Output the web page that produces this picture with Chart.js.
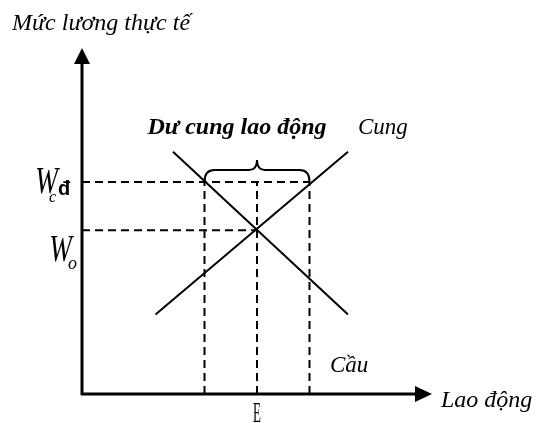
<!DOCTYPE html>
<html>
<head>
<meta charset="utf-8">
<script src="https://cdn.jsdelivr.net/npm/chart.js@4.4.0/dist/chart.umd.min.js"></script>
<style>
  html, body { margin: 0; padding: 0; background: #fff; }
  #wrap { width: 540px; height: 423px; }
</style>
</head>
<body>
<div id="wrap"><canvas id="laborChart" width="540" height="423"></canvas></div>
<script>
// ---- data (units of the chart's own axes) ----
const supplyLine = [{ x: 21, y: 23 }, { x: 76, y: 70 }];   // Cung
const demandLine = [{ x: 26, y: 70 }, { x: 76, y: 23 }];   // Cầu
const wageEq = 47.3;      // W_o
const wageFloor = 61.3;   // W_cđ
const qDemand = 35;       // lượng cầu tại W_cđ
const qEq = 50;           // E
const qSupply = 65;       // lượng cung tại W_cđ

const labels = {
  yTitle: 'Mức lương thực tế',
  xTitle: 'Lao động',
  surplus: 'Dư cung lao động',
  supply: 'Cung',
  demand: 'Cầu',
  eq: 'E'
};

const serif = '"Liberation Serif", "Times New Roman", serif';

const dashed = {
  borderColor: '#000',
  borderWidth: 2,
  borderDash: [8, 5],
  pointRadius: 0,
  showLine: true,
  fill: false
};

// axes, arrows, brace and texts
const drawing = {
  id: 'drawing',
  afterDatasetsDraw(chart) {
    const ctx = chart.ctx;
    const xs = chart.scales.x, ys = chart.scales.y;
    const a = chart.chartArea;
    const ox = a.left, oy = a.bottom;
    ctx.save();
    ctx.fillStyle = '#000';
    ctx.strokeStyle = '#000';

    // axes
    ctx.lineWidth = 3;
    ctx.beginPath();
    ctx.moveTo(ox, oy + 1);
    ctx.lineTo(ox, a.top + 12);
    ctx.moveTo(ox - 1, oy);
    ctx.lineTo(a.right - 12, oy);
    ctx.stroke();
    // arrow heads
    ctx.beginPath();
    ctx.moveTo(ox, a.top);
    ctx.lineTo(ox - 8, a.top + 16);
    ctx.lineTo(ox + 8, a.top + 16);
    ctx.closePath();
    ctx.fill();
    ctx.beginPath();
    ctx.moveTo(a.right, oy);
    ctx.lineTo(a.right - 17, oy - 8);
    ctx.lineTo(a.right - 17, oy + 8);
    ctx.closePath();
    ctx.fill();

    // brace over the surplus
    const bx1 = xs.getPixelForValue(qDemand);
    const bx2 = xs.getPixelForValue(qSupply);
    const bm = xs.getPixelForValue(qEq);
    const by = ys.getPixelForValue(wageFloor);
    ctx.lineWidth = 2;
    ctx.beginPath();
    ctx.moveTo(bx1, by);
    ctx.quadraticCurveTo(bx1, by - 12, bx1 + 10, by - 12);
    ctx.lineTo(bm - 8, by - 12);
    ctx.quadraticCurveTo(bm, by - 12, bm, by - 22);
    ctx.quadraticCurveTo(bm, by - 12, bm + 8, by - 12);
    ctx.lineTo(bx2 - 10, by - 12);
    ctx.quadraticCurveTo(bx2, by - 12, bx2, by);
    ctx.stroke();

    // texts
    ctx.textBaseline = 'alphabetic';
    ctx.textAlign = 'left';
    ctx.font = 'italic 24px ' + serif;
    ctx.fillText(labels.yTitle, 12, 30);
    ctx.fillText(labels.xTitle, a.right + 9, oy + 13);
    ctx.font = 'italic 23px ' + serif;
    ctx.fillText(labels.supply, xs.getPixelForValue(supplyLine[1].x) + 10, ys.getPixelForValue(supplyLine[1].y) - 18);
    ctx.fillText(labels.demand, xs.getPixelForValue(demandLine[1].x) - 18, ys.getPixelForValue(demandLine[1].y) + 58);

    ctx.textAlign = 'center';
    ctx.font = 'bold italic 24px ' + serif;
    ctx.fillText(labels.surplus, bm - 20, by - 48);

    // E, condensed
    ctx.save();
    ctx.translate(xs.getPixelForValue(qEq), oy + 28);
    ctx.scale(0.5, 1.15);
    ctx.font = '26px ' + serif;
    ctx.fillText(labels.eq, 0, 0);
    ctx.restore();

    // W labels
    const wLabel = (y, right) => {
      ctx.save();
      ctx.textAlign = 'right';
      ctx.translate(right, y);
      ctx.scale(0.8, 1.1);
      ctx.font = 'italic 34px ' + serif;
      ctx.fillText('W', 0, 0);
      ctx.restore();
    };
    const yF = ys.getPixelForValue(wageFloor);
    const yE = ys.getPixelForValue(wageEq);
    wLabel(yF + 11, 58);
    ctx.textAlign = 'left';
    ctx.font = 'italic 16px ' + serif;
    ctx.fillText('c', 49, yF + 20);
    ctx.font = 'bold 20px "Liberation Sans", Arial, sans-serif';
    ctx.fillText('đ', 58, yF + 13);
    wLabel(yE + 31, 72);
    ctx.font = 'italic 18px ' + serif;
    ctx.fillText('o', 68, yE + 39);

    ctx.restore();
  }
};

new Chart(document.getElementById('laborChart'), {
  type: 'scatter',
  data: {
    datasets: [
      { label: labels.supply, data: supplyLine, showLine: true, borderColor: '#000', borderWidth: 2, pointRadius: 0 },
      { label: labels.demand, data: demandLine, showLine: true, borderColor: '#000', borderWidth: 2, pointRadius: 0 },
      Object.assign({ data: [{ x: 0, y: wageFloor }, { x: qSupply, y: wageFloor }] }, dashed),
      Object.assign({ data: [{ x: 0, y: wageEq }, { x: qEq, y: wageEq }] }, dashed),
      Object.assign({ data: [{ x: qDemand, y: 0 }, { x: qDemand, y: wageFloor }] }, dashed),
      Object.assign({ data: [{ x: qEq, y: 0 }, { x: qEq, y: wageFloor }] }, dashed),
      Object.assign({ data: [{ x: qSupply, y: 0 }, { x: qSupply, y: wageFloor }] }, dashed)
    ]
  },
  options: {
    responsive: false,
    animation: false,
    layout: { padding: { left: 82, right: 108, top: 48, bottom: 29 } },
    plugins: { legend: { display: false }, tooltip: { enabled: false } },
    scales: {
      x: { type: 'linear', min: 0, max: 100, display: false },
      y: { type: 'linear', min: 0, max: 100, display: false }
    }
  },
  plugins: [drawing]
});
</script>
</body>
</html>
